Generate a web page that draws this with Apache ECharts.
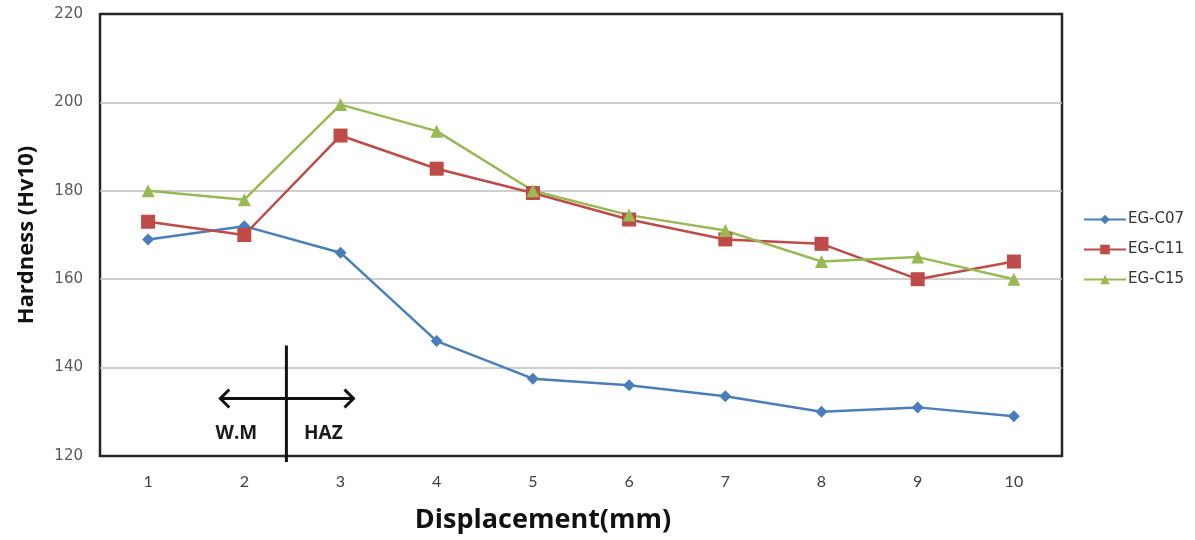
<!DOCTYPE html>
<html><head><meta charset="utf-8">
<script src="https://cdn.jsdelivr.net/npm/echarts@6/dist/echarts.min.js"></script>
<style>html,body{margin:0;padding:0;background:#fff}#c{width:1195px;height:540px}</style>
</head><body><div id="c"></div>
<script>
const categories = ['1','2','3','4','5','6','7','8','9','10'];
const egC07 = [169, 172, 166, 146, 137.5, 136, 133.5, 130, 131, 129];
const egC11 = [173, 170, 192.5, 185, 179.5, 173.5, 169, 168, 160, 164];
const egC15 = [180, 178, 199.5, 193.5, 180, 174.5, 171, 164, 165, 160];
const seriesNames = ['EG-C07', 'EG-C11', 'EG-C15'];
const yTicks = [120, 140, 160, 180, 200, 220];

const chart = echarts.init(document.getElementById('c'), null, {renderer: 'canvas'});
const titleFont = '"Open Sans", Lato, sans-serif';
const wideFont = '"DejaVu Sans", Verdana, sans-serif';
const narrowFont = '"Liberation Sans Narrow", Lato, sans-serif';
const mk = (name, data, color, symbol, size) => ({
  name, type: 'line', data, symbol, symbolSize: size,
  lineStyle: {color, width: 2.5}, itemStyle: {color},
  emphasis: {disabled: true}
});
chart.setOption({
  animation: false,
  backgroundColor: '#fff',
  grid: {left: 100, right: 133, top: 14, bottom: 84, show: true, borderColor: '#262626', borderWidth: 2.5},
  legend: {
    orient: 'vertical', left: 1078, top: 207, itemGap: 15, itemWidth: 42, itemHeight: 12,
    textStyle: {fontFamily: wideFont, fontSize: 15, color: '#333', padding: [0, 0, 0, -3]},
    data: seriesNames
  },
  xAxis: {
    type: 'category', data: categories, boundaryGap: true,
    name: 'Displacement(mm)', nameLocation: 'middle', nameGap: 51,
    nameTextStyle: {fontFamily: titleFont, fontSize: 27, fontWeight: 'bold', color: '#111', padding: [0, 76, 0, 0]},
    axisLine: {show: false}, axisTick: {show: false},
    axisLabel: {fontFamily: narrowFont, fontSize: 16, color: '#404040', margin: 18}
  },
  yAxis: {
    type: 'value', min: 120, max: 220, interval: 20,
    name: 'Hardness (Hv10)', nameLocation: 'middle', nameGap: 62,
    nameTextStyle: {fontFamily: titleFont, fontSize: 22, fontWeight: 'bold', color: '#111'},
    axisLine: {show: false}, axisTick: {show: false},
    axisLabel: {fontFamily: wideFont, fontSize: 15, color: '#595959', margin: 17,
      formatter: v => yTicks.includes(v) ? String(v) : ''},
    splitLine: {lineStyle: {color: ['transparent', '#bfbfbf', '#bfbfbf', '#bfbfbf', '#bfbfbf', 'transparent'], width: 1.5}}
  },
  series: [
    mk(seriesNames[0], egC07, '#4A7EBB', 'diamond', 12),
    mk(seriesNames[1], egC11, '#BE4B48', 'rect', 14),
    mk(seriesNames[2], egC15, '#98B954', 'triangle', 13)
  ]
});

// Annotation (W.M / HAZ boundary) placed via axis scales
const px = (c, v) => chart.convertToPixel({gridIndex: 0}, [c, v]);
const xMid = (px(1, 120)[0] + px(2, 120)[0]) / 2 - 6;
const yTop = px(1, 145)[1];
const yBot = px(1, 120)[1] + 6;
const yArrow = px(1, 133)[1];
const xL = px(1, 120)[0] - 24;
const xR = px(2, 120)[0] + 13;
const head = 9;
chart.setOption({
  graphic: [
    {type: 'line', shape: {x1: xMid, y1: yTop, x2: xMid, y2: yBot}, style: {stroke: '#111', lineWidth: 3}, z: 100},
    {type: 'line', shape: {x1: xL, y1: yArrow, x2: xR, y2: yArrow}, style: {stroke: '#111', lineWidth: 3}, z: 100},
    {type: 'polyline', shape: {points: [[xL + head, yArrow - head], [xL, yArrow], [xL + head, yArrow + head]]}, style: {stroke: '#111', lineWidth: 3, fill: null}, z: 100},
    {type: 'polyline', shape: {points: [[xR - head, yArrow - head], [xR, yArrow], [xR - head, yArrow + head]]}, style: {stroke: '#111', lineWidth: 3, fill: null}, z: 100},
    {type: 'text', x: xMid - 50, y: px(1, 125)[1], style: {text: 'W.M', font: 'bold 19px ' + titleFont, fill: '#1a1a1a', textAlign: 'center', textVerticalAlign: 'middle'}, z: 100},
    {type: 'text', x: xMid + 37, y: px(1, 125)[1], style: {text: 'HAZ', font: 'bold 19px ' + titleFont, fill: '#1a1a1a', textAlign: 'center', textVerticalAlign: 'middle'}, z: 100}
  ]
});
</script></body></html>
